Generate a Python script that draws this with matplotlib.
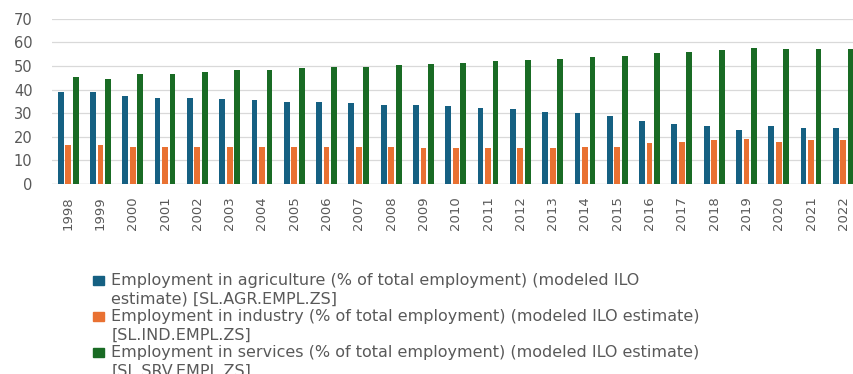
import numpy as np
import matplotlib
matplotlib.use("Agg")
import matplotlib.pyplot as plt
from matplotlib.patches import Rectangle

# employment shares by sector, % of total employment
years = list(range(1998, 2023))
agriculture = [38.9, 38.9, 37.2, 36.6, 36.6, 36.0, 35.4, 34.8, 34.8, 34.2, 33.6, 33.6, 33.1,
               32.4, 31.9, 30.7, 30.1, 29.0, 26.7, 25.6, 24.4, 22.7, 24.4, 23.9, 23.9]
industry = [16.4, 16.4, 15.8, 15.8, 15.8, 15.8, 15.8, 15.8, 15.8, 15.8, 15.8, 15.3, 15.3,
            15.3, 15.3, 15.3, 15.8, 15.8, 17.5, 18.0, 18.6, 19.1, 18.0, 18.6, 18.6]
services = [45.2, 44.6, 46.8, 46.8, 47.5, 48.1, 48.5, 49.2, 49.7, 49.7, 50.3, 50.8, 51.4,
            52.0, 52.6, 53.1, 53.8, 54.4, 55.5, 56.1, 56.7, 57.8, 57.3, 57.3, 57.3]

labels = [
    "Employment in agriculture (% of total employment) (modeled ILO\nestimate) [SL.AGR.EMPL.ZS]",
    "Employment in industry (% of total employment) (modeled ILO estimate)\n[SL.IND.EMPL.ZS]",
    "Employment in services (% of total employment) (modeled ILO estimate)\n[SL.SRV.EMPL.ZS]",
]
colors = ["#156082", "#E97132", "#196B24"]
series = [agriculture, industry, services]

W, H = 854, 374
fig = plt.figure(figsize=(W / 100, H / 100), dpi=100)
ax = fig.add_axes([52 / W, 1 - 184 / H, 807.5 / W, (184 - 18.8) / H])

x = np.arange(len(years))
bw = 0.18
step = 0.232
for i, (vals, c) in enumerate(zip(series, colors)):
    ax.bar(x + (i - 1) * step, vals, width=bw, color=c, zorder=3)

ax.set_xlim(-0.5, len(years) - 0.5)
ax.set_ylim(0, 70)
ax.set_yticks(range(0, 71, 10))
ax.set_xticks(x)
ax.set_xticklabels([str(y) for y in years], rotation=90)
ax.grid(axis="y", color="#D9D9D9", linewidth=0.9, zorder=0)
for s in ax.spines.values():
    s.set_visible(False)
ax.axhline(0, color="#D9D9D9", linewidth=1.0, zorder=2)
ax.tick_params(axis="y", length=0, pad=14, labelsize=10.5, labelcolor="#595959")
ax.tick_params(axis="x", length=0, pad=9, labelsize=9.5, labelcolor="#595959")

# legend drawn below the plot, marker next to the first line of each entry
first_base = 284.7
block = 36.3
line_gap = 18.3
for i, (lab, c) in enumerate(zip(labels, colors)):
    base = first_base + i * block
    fig.patches.append(Rectangle((93 / W, 1 - (base) / H), 11 / W, 9 / H,
                                 transform=fig.transFigure, color=c))
    for j, line in enumerate(lab.split("\n")):
        fig.text(111.5 / W, 1 - (base + j * line_gap) / H, line, fontsize=11.5,
                 color="#595959", va="baseline", ha="left")

fig.savefig("out.png", dpi=100)
